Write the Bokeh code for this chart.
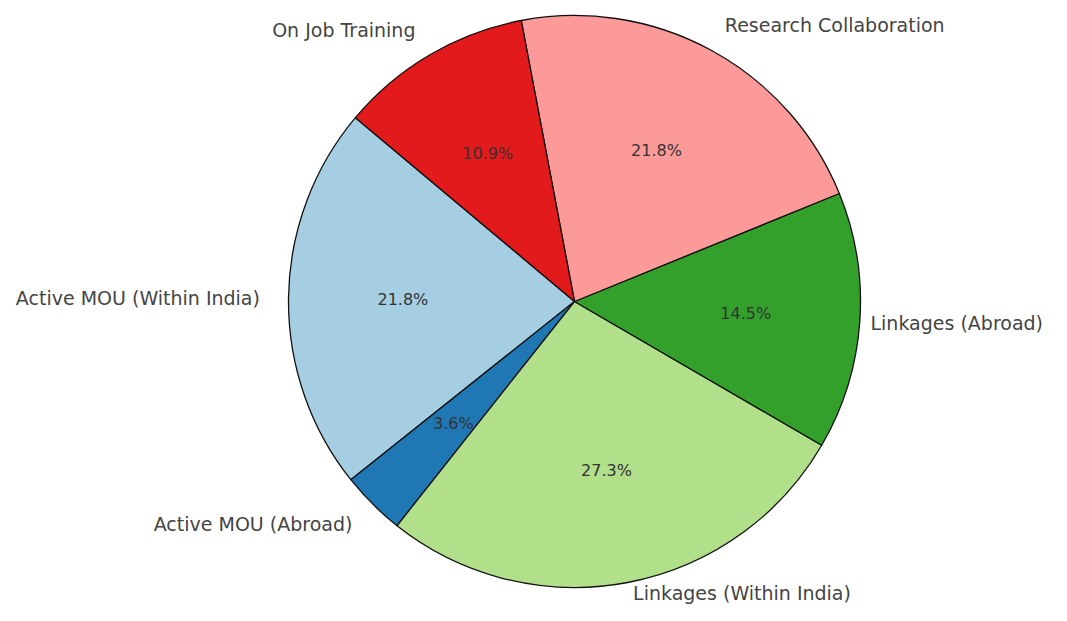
import numpy as np
from bokeh.plotting import figure
from bokeh.models import Range1d, ColumnDataSource
from bokeh.core.properties import value
from bokeh.embed import file_html
from bokeh.resources import INLINE

categories = ["Active MOU (Within India)", "Active MOU (Abroad)", "Linkages (Within India)",
              "Linkages (Abroad)", "Research Collaboration", "On Job Training"]
counts = [12, 2, 15, 8, 12, 6]
colors = ["#a6cee3", "#1f78b4", "#b2df8a", "#33a02c", "#fb9a99", "#e31a1c"]
start_deg = 140

W, H = 1051, 605
R = 286.0
cx_px, cy_px = 574.0, 301.0  # pie centre in plot pixels (from top-left)

vals = np.array(counts, dtype=float)
frac = vals / vals.sum()
theta2 = np.deg2rad(start_deg) + 2 * np.pi * np.cumsum(frac)
theta1 = theta2 - 2 * np.pi * frac
mid = (theta1 + theta2) / 2

src = ColumnDataSource(dict(start=theta1, end=theta2, color=colors))

p = figure(width=W, height=H, output_backend="svg", toolbar_location=None,
           x_range=Range1d(-cx_px / R, (W - cx_px) / R),
           y_range=Range1d(-(H - cy_px) / R, cy_px / R),
           min_border=0)
p.axis.visible = False
p.grid.visible = False
p.outline_line_color = None
p.background_fill_color = "white"
p.border_fill_color = "white"

p.wedge(x=0, y=0, radius=1.0, start_angle="start", end_angle="end", direction="anticlock",
        fill_color="color", line_color="#111111", line_width=1.3, source=src)

lx = 1.1 * np.cos(mid)
ly = 1.1 * np.sin(mid)
ly = np.maximum(ly, (cy_px - 592.0) / R)   # keep bottom label inside the canvas
lx = np.minimum(lx, (870.0 - cx_px) / R)   # keep right label inside the canvas
align = ["left" if x > 0 else "right" for x in lx]
lab = ColumnDataSource(dict(x=lx, y=ly, t=categories, a=align))
p.text(x="x", y="y", text="t", text_align="a", text_baseline="middle",
       text_font=value("DejaVu Sans"), text_font_size="19px", text_color="#444444", source=lab)

px = 0.6 * np.cos(mid)
py = 0.6 * np.sin(mid)
pct = ["%.1f%%" % (100 * f) for f in frac]
pl = ColumnDataSource(dict(x=px, y=py, t=pct))
p.text(x="x", y="y", text="t", text_align="center", text_baseline="middle",
       text_font=value("DejaVu Sans"), text_font_size="16px", text_color="#333333", source=pl)

open("out.html", "w").write(file_html(p, INLINE))
